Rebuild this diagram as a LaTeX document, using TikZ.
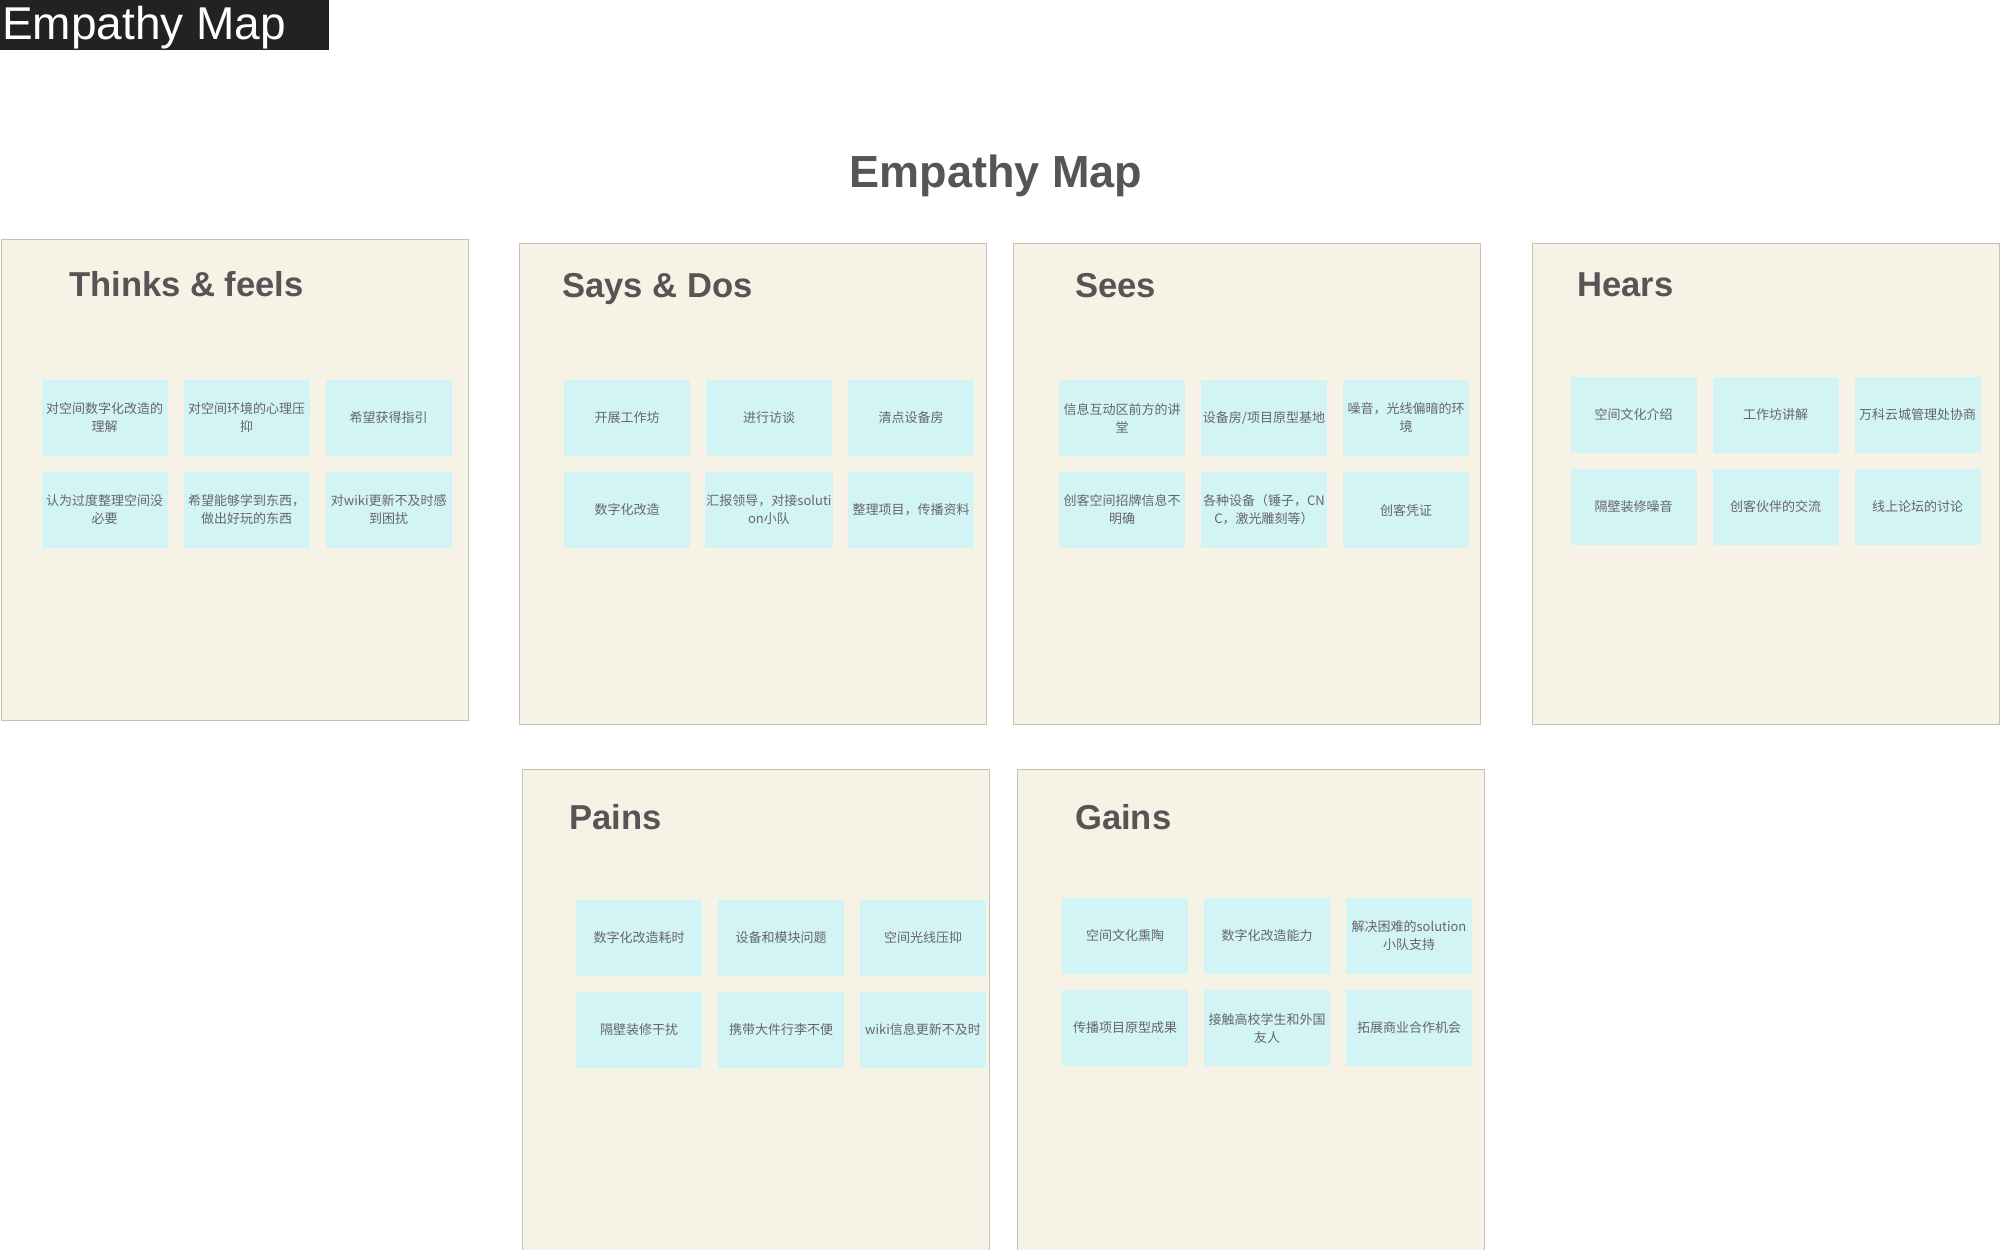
\documentclass[tikz,border=0pt]{standalone}
\usepackage{fontspec}
\setmainfont{Liberation Sans}
\newfontfamily\cjk{Noto Sans CJK SC}
\usepackage{tikz}

\definecolor{panelfill}{HTML}{F6F3E6}
\definecolor{paneledge}{HTML}{C6C2B6}
\definecolor{cardfill}{HTML}{D3F4F4}
\definecolor{cardtext}{HTML}{666666}
\definecolor{titlegray}{HTML}{555555}
\definecolor{bardark}{HTML}{222222}

% six sticky notes in a 3x2 grid: prefix, centre of first note, texts
\newcommand{\cardgrid}[4]{%
  \foreach \txt [count=\i from 0] in {#4} {
    \pgfmathtruncatemacro{\col}{mod(\i,3)}
    \pgfmathtruncatemacro{\row}{div(\i,3)}
    \node[card] (#1\i) at ({#2+142*\col},{#3+92*\row}) {\txt};
  }%
}

\begin{document}
\begin{tikzpicture}[x=1pt,y=-1pt,
  panel/.style={draw=paneledge, line width=1pt, fill=panelfill, anchor=north west,
    minimum width=467, minimum height=481, inner sep=0},
  paneltitle/.style={anchor=base west, text=titlegray, inner sep=0,
    font=\fontsize{34.6}{40}\selectfont\bfseries},
  card/.style={fill=cardfill, minimum width=126, minimum height=76, inner sep=1pt,
    align=center, text=cardtext, font=\cjk\fontsize{13}{18}\selectfont}]
  \useasboundingbox (0,0) rectangle (2000,1250);

  \node[fill=bardark, anchor=north west, minimum width=329, minimum height=50, inner sep=0] (bar) at (0,0) {};
  \node[anchor=base west, text=white, inner sep=0, font=\fontsize{46}{50}\selectfont] (bartext) at (2,39) {Empathy Map};
  \node[anchor=base, text=titlegray, inner sep=0, font=\fontsize{45}{50}\selectfont\bfseries] (maptitle) at (996,187) {Empathy Map};

  % top row
  \node[panel] (thinks) at (0.5,239) {};
  \node[panel] (says) at (518.5,242.5) {};
  \node[panel] (sees) at (1013,242.5) {};
  \node[panel] (hears) at (1532,242.5) {};
  % bottom row
  \node[panel, minimum height=500] (pains) at (521.5,769) {};
  \node[panel, minimum height=500] (gains) at (1016.5,769) {};

  \node[paneltitle] (thinkstitle) at (69,296) {Thinks \& feels};
  \node[paneltitle] (saystitle) at (562,297) {Says \& Dos};
  \node[paneltitle] (seestitle) at (1075,297) {Sees};
  \node[paneltitle] (hearstitle) at (1577,296) {Hears};
  \node[paneltitle] (painstitle) at (569,829) {Pains};
  \node[paneltitle] (gainstitle) at (1075,829) {Gains};

  \cardgrid{tf}{104.7}{418}{{对空间数字化改造的\\理解},{对空间环境的心理压\\抑},希望获得指引,
    {认为过度整理空间没\\必要},{希望能够学到东西，\\做出好玩的东西},{对wiki更新不及时感\\到困扰}}
  \cardgrid{sd}{627}{418}{开展工作坊,进行访谈,清点设备房,
    数字化改造,{汇报领导，对接soluti\\on小队},整理项目，传播资料}
  \cardgrid{se}{1122}{418}{{信息互动区前方的讲\\堂},设备房/项目原型基地,{噪音，光线偏暗的环\\境},
    {创客空间招牌信息不\\明确},{各种设备（锤子，CN\\C，激光雕刻等）},创客凭证}
  \cardgrid{he}{1633.5}{415}{空间文化介绍,工作坊讲解,万科云城管理处协商,
    隔壁装修噪音,创客伙伴的交流,线上论坛的讨论}
  \cardgrid{pa}{639}{938}{数字化改造耗时,设备和模块问题,空间光线压抑,
    隔壁装修干扰,携带大件行李不便,wiki信息更新不及时}
  \cardgrid{ga}{1125}{936}{空间文化熏陶,数字化改造能力,{解决困难的solution\\小队支持},
    传播项目原型成果,{接触高校学生和外国\\友人},拓展商业合作机会}
\end{tikzpicture}
\end{document}
